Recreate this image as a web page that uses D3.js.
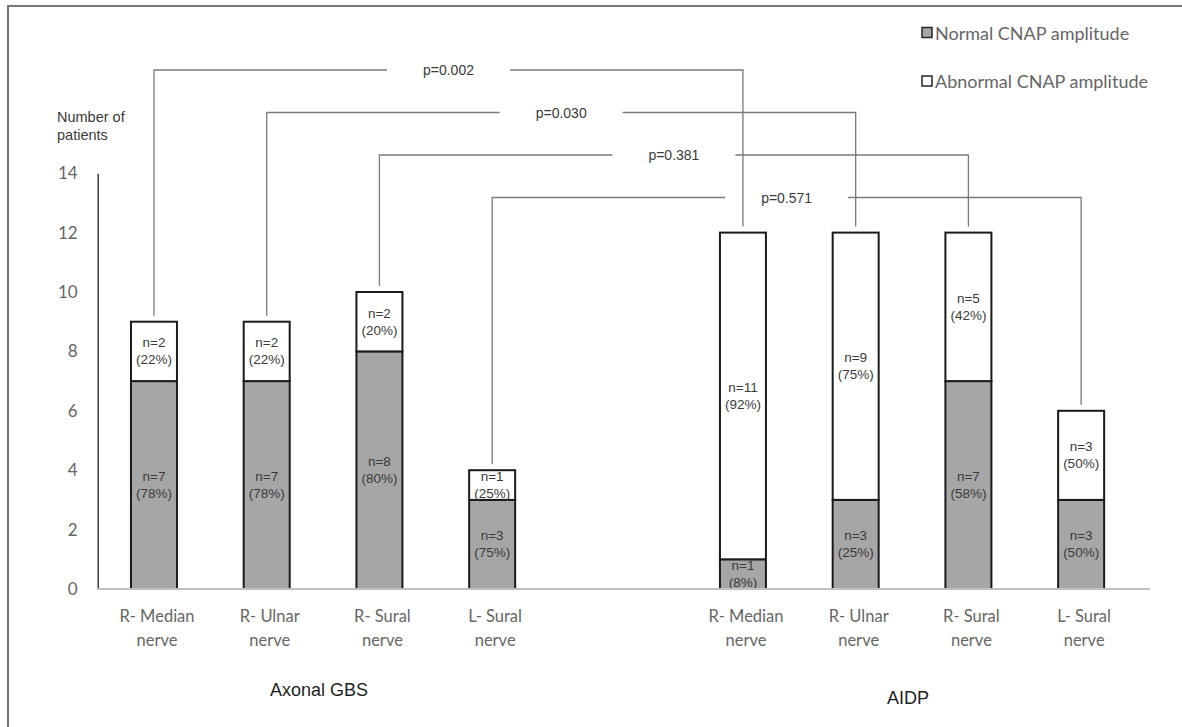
<!DOCTYPE html>
<html>
<head>
<meta charset="utf-8">
<script src="https://cdn.jsdelivr.net/npm/d3@7"></script>
<style>
  html, body { margin: 0; padding: 0; background: #fff; }
  svg { display: block; }
</style>
</head>
<body>
<svg id="chart" width="1182" height="727"></svg>
<script>
// ---------------- data ----------------
const groups = ["Axonal GBS", "AIDP"];
const nerves = ["R- Median nerve", "R- Ulnar nerve", "R- Sural nerve", "L- Sural nerve"];
const normalGBS = [7, 7, 8, 3];
const abnormalGBS = [2, 2, 2, 1];
const normalPctGBS = [78, 78, 80, 75];
const abnormalPctGBS = [22, 22, 20, 25];
const normalAIDP = [1, 3, 7, 3];
const abnormalAIDP = [11, 9, 5, 3];
const normalPctAIDP = [8, 25, 58, 50];
const abnormalPctAIDP = [92, 75, 42, 50];
const pValues = ["p=0.002", "p=0.030", "p=0.381", "p=0.571"];
const yTicks = [0, 2, 4, 6, 8, 10, 12, 14];
const seriesNames = ["Normal CNAP amplitude", "Abnormal CNAP amplitude"];

// ---------------- layout ----------------
const svg = d3.select("#chart");
const colNormal = "#a6a6a6", colAbn = "#ffffff", barStroke = "#1a1a1a";
const grayText = "#595959", darkText = "#3a3a3a";
const sansCal = "Lato, 'Open Sans', sans-serif";
const sansAr = "'Liberation Sans', Arial, sans-serif";

const y = d3.scaleLinear().domain([0, 14]).range([589, 173.2]);
const outer = d3.scaleBand().domain(groups).range([97.6, 1137.5]).paddingInner(0.2344);
const inner = d3.scaleBand().domain(nerves).range([0, outer.bandwidth()])
  .paddingInner(0.592).paddingOuter(0.296);

const rows = [];
nerves.forEach((n, i) => {
  rows.push({group: groups[0], nerve: n, idx: i, normal: normalGBS[i], abnormal: abnormalGBS[i], pn: normalPctGBS[i], pa: abnormalPctGBS[i]});
});
nerves.forEach((n, i) => {
  rows.push({group: groups[1], nerve: n, idx: i, normal: normalAIDP[i], abnormal: abnormalAIDP[i], pn: normalPctAIDP[i], pa: abnormalPctAIDP[i]});
});
const xLeft = d => outer(d.group) + inner(d.nerve);
const xMid = d => xLeft(d) + inner.bandwidth() / 2;

// frame (left + top)
svg.append("line").attr("x1", 8).attr("x2", 8).attr("y1", 5).attr("y2", 727)
  .attr("stroke", "#777").attr("stroke-width", 2);
svg.append("line").attr("x1", 7).attr("x2", 1182).attr("y1", 6).attr("y2", 6)
  .attr("stroke", "#777").attr("stroke-width", 2);

// y axis
const yAxis = d3.axisLeft(y).tickValues(yTicks).tickSize(0).tickPadding(20).tickFormat(d3.format("d"));
const gy = svg.append("g").attr("transform", "translate(97.7,0)").call(yAxis);
gy.select(".domain").attr("stroke", darkText).attr("stroke-width", 1.5);
gy.selectAll("text").attr("font-family", sansCal).attr("font-size", 17).attr("fill", "#666");

// y axis title
svg.append("text").attr("x", 57).attr("y", 122).attr("font-family", sansAr).attr("font-size", 14.5)
  .attr("fill", darkText)
  .selectAll("tspan").data(["Number of", "patients"]).join("tspan")
  .attr("x", 57).attr("dy", (d, i) => i ? 18 : 0).text(d => d);

// bars
const bars = svg.append("g");
bars.selectAll("rect.normal").data(rows).join("rect").attr("class", "normal")
  .attr("x", xLeft).attr("width", inner.bandwidth())
  .attr("y", d => y(d.normal)).attr("height", d => y(0) - y(d.normal))
  .attr("fill", colNormal).attr("stroke", barStroke).attr("stroke-width", 2);
bars.selectAll("rect.abn").data(rows).join("rect").attr("class", "abn")
  .attr("x", xLeft).attr("width", inner.bandwidth())
  .attr("y", d => y(d.normal + d.abnormal)).attr("height", d => y(d.normal) - y(d.normal + d.abnormal))
  .attr("fill", colAbn).attr("stroke", barStroke).attr("stroke-width", 2);

// segment labels
function segLabel(sel, val0, val1, n, pct) {
  sel.each(function(d) {
    const cy = (y(val0(d)) + y(val1(d))) / 2;
    const t = d3.select(this).append("text")
      .attr("text-anchor", "middle").attr("font-family", sansAr).attr("font-size", 13.5)
      .attr("fill", darkText);
    t.append("tspan").attr("x", xMid(d)).attr("y", cy - 8.5).attr("dominant-baseline", "central").text("n=" + n(d));
    t.append("tspan").attr("x", xMid(d)).attr("y", cy + 8.5).attr("dominant-baseline", "central").text("(" + pct(d) + "%)");
  });
}
const lab = svg.append("g");
segLabel(lab.selectAll("g.ln").data(rows).join("g").attr("class", "ln"),
  d => 0, d => d.normal, d => d.normal, d => d.pn);
segLabel(lab.selectAll("g.la").data(rows).join("g").attr("class", "la"),
  d => d.normal, d => d.normal + d.abnormal, d => d.abnormal, d => d.pa);

// baseline
svg.append("line").attr("x1", 97).attr("x2", 1150).attr("y1", y(0)).attr("y2", y(0))
  .attr("stroke", "#bfbfbf").attr("stroke-width", 2);

// x labels
const xl = svg.append("g");
rows.forEach(d => {
  const parts = d.nerve.split(" nerve");
  const t = xl.append("text").attr("text-anchor", "middle").attr("font-family", sansCal)
    .attr("font-size", 16.5).attr("fill", "#666");
  t.append("tspan").attr("x", xMid(d) + 3).attr("y", 622).text(parts[0]);
  t.append("tspan").attr("x", xMid(d) + 3).attr("y", 646).text("nerve");
});
// group labels
groups.forEach((g, i) => {
  svg.append("text").attr("x", outer(g) + outer.bandwidth() / 2 - 4).attr("y", i ? 704 : 696)
    .attr("text-anchor", "middle").attr("font-family", sansAr).attr("font-size", 18)
    .attr("fill", "#1f1f1f").text(g);
});

// p-value brackets
const br = svg.append("g");
const bracketTop = 70, bracketStep = 42.5, gapPad = 36;
pValues.forEach((p, i) => {
  const a = rows[i], b = rows[i + 4];
  const xa = xMid(a), xb = xMid(b);
  const ly = bracketTop + i * bracketStep;
  const ya = y(a.normal + a.abnormal) - 6, yb = y(b.normal + b.abnormal) - 6;
  const tx = (xa + xb) / 2;
  const txt = br.append("text").attr("x", tx).attr("y", ly).attr("text-anchor", "middle")
    .attr("dominant-baseline", "central").attr("font-family", sansAr).attr("font-size", 14)
    .attr("fill", darkText).text(p);
  const w = txt.node().getComputedTextLength();
  const g1 = tx - w / 2 - gapPad, g2 = tx + w / 2 + gapPad;
  br.append("path").attr("d", d3.line()([[xa, ya], [xa, ly], [g1, ly]]))
    .attr("fill", "none").attr("stroke", "#7a7a7a").attr("stroke-width", 1.3);
  br.append("path").attr("d", d3.line()([[g2, ly], [xb, ly], [xb, yb]]))
    .attr("fill", "none").attr("stroke", "#7a7a7a").attr("stroke-width", 1.3);
});

// legend
const lg = svg.append("g");
seriesNames.forEach((s, i) => {
  const cy = 32.5 + i * 48.5;
  lg.append("rect").attr("x", 922).attr("y", cy - 5).attr("width", 10).attr("height", 10)
    .attr("fill", i ? colAbn : colNormal).attr("stroke", "#262626").attr("stroke-width", 1.5);
  lg.append("text").attr("x", 935).attr("y", cy).attr("dominant-baseline", "central")
    .attr("font-family", sansCal).attr("font-size", 18).attr("fill", "#666").text(s);
});
</script>
</body>
</html>
